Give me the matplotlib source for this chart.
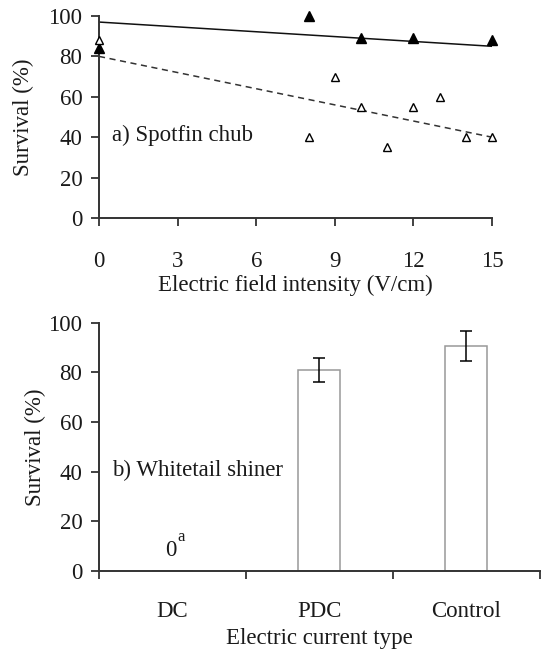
import numpy as np
import matplotlib.pyplot as plt

plt.rcParams['font.family'] = ['Liberation Serif', 'DejaVu Serif']

# ----------------------------
# Data: a) Spotfin chub
# ----------------------------
field_filled = [0, 8, 10, 12, 15]
surv_filled = [84, 100, 89, 89, 88]
field_open = [0, 8, 9, 10, 11, 12, 13, 14, 15]
surv_open = [88, 40, 70, 55, 35, 55, 60, 40, 40]

fit_x = [0, 15]
fit_filled = [97, 85]
fit_open = [80, 40]

# ----------------------------
# Data: b) Whitetail shiner
# ----------------------------
current_types = ["DC", "PDC", "Control"]
surv_bar = [0, 81, 90.7]
surv_err = [0, 4.8, 6]

FS = 16.5
TXT = "#1a1a1a"

fig = plt.figure(figsize=(5.48, 6.5), dpi=100)

# --- Panel a ---
ax1 = fig.add_axes([0.1807, 0.6646, 0.7172, 0.3108])
ax1.plot(fit_x, fit_filled, color="#111111", lw=1.1)
ax1.plot(fit_x, fit_open, color="#333333", lw=1.1, ls=(0, (4, 3)))
ax1.plot(field_filled, surv_filled, ls="none", marker="^", ms=6.5,
         color="black", clip_on=False, zorder=5)
ax1.plot(field_open, surv_open, ls="none", marker="^", ms=6,
         markerfacecolor="white", markeredgecolor="black", mew=1.0,
         clip_on=False, zorder=5)
ax1.set_xlim(0, 15)
ax1.set_ylim(0, 100)
ax1.set_xticks([0, 3, 6, 9, 12, 15])
ax1.set_yticks([0, 20, 40, 60, 80, 100])
ax1.set_xlabel("Electric field intensity (V/cm)", fontsize=FS, labelpad=2,
               color=TXT)
ax1.set_ylabel("Survival (%)", fontsize=FS, labelpad=10.5, color=TXT)
ax1.text(0.49, 41, "a) Spotfin chub", fontsize=FS, va="center", ha="left",
         color=TXT)

# --- Panel b ---
ax2 = fig.add_axes([0.1807, 0.1215, 0.804, 0.382])
xpos = np.arange(len(current_types))
ax2.bar(xpos, surv_bar, width=0.285, color="white", edgecolor="#999999",
        lw=1.1)
ax2.errorbar(xpos[1:], surv_bar[1:], yerr=surv_err[1:], fmt="none",
             ecolor="black", elinewidth=1.1, capsize=4, capthick=1.1)
ax2.set_xlim(-0.5, 2.5)
ax2.set_ylim(0, 100)
ax2.set_xticks([-0.5, 0.5, 1.5, 2.5])
ax2.set_xticklabels([])
ax2.set_yticks([0, 20, 40, 60, 80, 100])
for x, lab in zip(xpos, current_types):
    ax2.text(x, -16.3, lab, fontsize=FS, ha="center", va="center",
             clip_on=False, color=TXT)
ax2.text(0.5, -0.27, "Electric current type", fontsize=FS, ha="center",
         va="center", transform=ax2.transAxes, color=TXT)
ax2.set_ylabel("Survival (%)", fontsize=FS, labelpad=2, color=TXT)
ax2.text(-0.413, 40.7, "b) Whitetail shiner", fontsize=FS, va="center",
         ha="left", color=TXT)
ax2.text(-0.01, 4.2, "0", fontsize=FS, ha="center", va="bottom", color=TXT)
ax2.text(0.06, 13.8, "a", fontsize=12, ha="center", va="center", color=TXT)

for ax in (ax1, ax2):
    ax.spines["top"].set_visible(False)
    ax.spines["right"].set_visible(False)
    for s in ("left", "bottom"):
        ax.spines[s].set_linewidth(1.4)
        ax.spines[s].set_color("#333333")
    ax.tick_params(direction="out", length=6, width=1.3, labelsize=FS,
                   color="#333333", labelcolor=TXT)
ax1.tick_params(axis="x", pad=18)
ax1.tick_params(axis="y", pad=6)
ax2.tick_params(axis="y", pad=6)

plt.savefig("out.png", dpi=100)
